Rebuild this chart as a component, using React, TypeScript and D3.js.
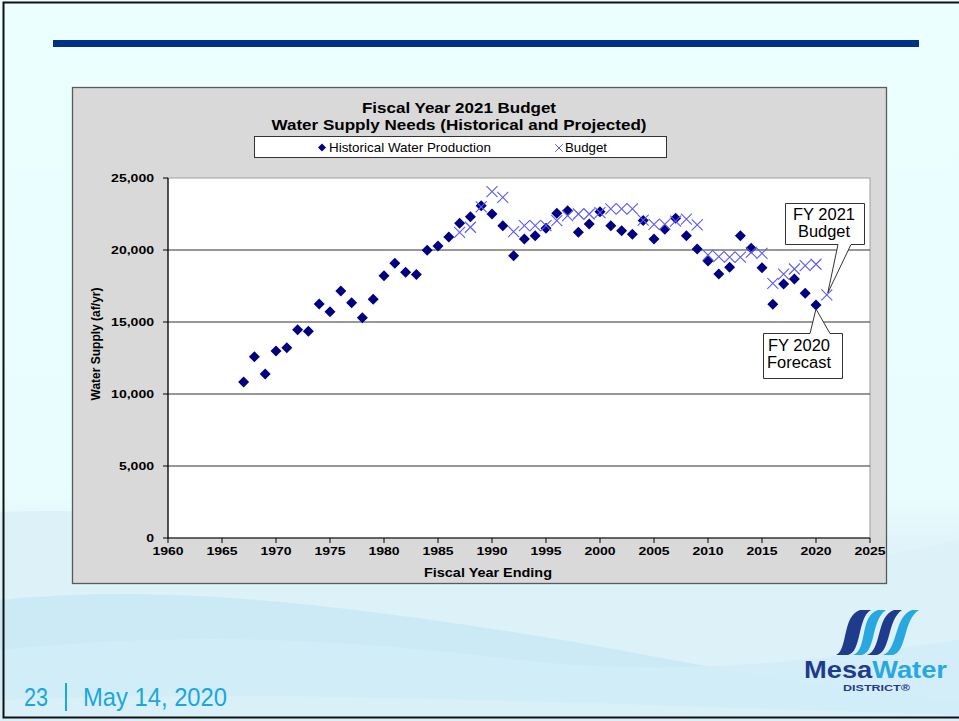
import React from "react";
import * as d3 from "d3";

const prodYears = [1967,1968,1969,1970,1971,1972,1973,1974,1975,1976,1977,1978,1979,1980,1981,1982,1983,1984,1985,1986,1987,1988,1989,1990,1991,1992,1993,1994,1995,1996,1997,1998,1999,2000,2001,2002,2003,2004,2005,2006,2007,2008,2009,2010,2011,2012,2013,2014,2015,2016,2017,2018,2019,2020];
const prodValues = [10830,12590,11390,12990,13220,14470,14350,16250,15720,17150,16340,15300,16580,18220,19080,18450,18290,19980,20280,20900,21850,22310,23080,22500,21690,19600,20760,20990,21510,22550,22730,21230,21810,22660,21690,21340,21090,22040,20760,21440,22200,20990,20070,19240,18330,18800,20990,20120,18770,16230,17640,17990,16990,16180];

const budgetYears = [1987,1988,1989,1990,1991,1992,1993,1994,1995,1996,1997,1998,1999,2000,2001,2002,2003,2004,2005,2006,2007,2008,2009,2010,2011,2012,2013,2014,2015,2016,2017,2018,2019,2020,2021];
const budgetValues = [21230,21580,22990,24050,23660,21270,21690,21690,21700,22040,22380,22500,22500,22600,22850,22850,22850,22080,21780,21780,22000,22150,21740,19650,19540,19500,19500,19840,19770,17690,18330,18680,18910,19010,16880];

const xTicks = [1960,1965,1970,1975,1980,1985,1990,1995,2000,2005,2010,2015,2020,2025];
const yTicks = [0,5000,10000,15000,20000,25000];

const titleLines = ["Fiscal Year 2021 Budget", "Water Supply Needs (Historical and Projected)"];
const legendLabels = ["Historical Water Production", "Budget"];

const FONT = "'Liberation Sans', Arial, sans-serif";

// approximate bold Arial advance widths for digits/comma (em)
const numWidth = (s: string, fs: number) =>
  s.split("").reduce((a, c) => a + (c === "," ? 0.278 : 0.556), 0) * fs;

export default function App() {
  const x = d3.scaleLinear().domain([1960, 2025]).range([168, 870]);
  const y = d3.scaleLinear().domain([0, 25000]).range([538, 178]);
  const fmt = d3.format(",");
  const diamond = (s: number) => `M0,${-s}L${s},0L0,${s}L${-s},0Z`;
  const cross = (s: number) => `M${-s},${-s}L${s},${s}M${-s},${s}L${s},${-s}`;

  const fx2020 = x(2020), fy2020 = y(prodValues[prodValues.length - 1]);
  const bx2021 = x(2021), by2021 = y(budgetValues[budgetValues.length - 1]);
  const tickFs = 11.5;
  const stretch = 1.22;

  return (
    <svg width={959} height={721} style={{ position: "absolute", left: 0, top: 0 }} fontFamily={FONT}>
      <defs>
        <linearGradient id="bg" x1="0" y1="0" x2="0" y2="1">
          <stop offset="0" stopColor="#ecffff" />
          <stop offset="0.68" stopColor="#eafdfe" />
          <stop offset="0.75" stopColor="#e0f4fa" />
          <stop offset="1" stopColor="#d4eef8" />
        </linearGradient>
      </defs>
      <rect x={0} y={0} width={959} height={721} fill="url(#bg)" />
      {/* waves */}
      <path d="M0,512 C200,505 400,540 600,560 C750,575 880,560 959,540 L959,721 L0,721 Z" fill="#dcf1f8" />
      <path d="M0,600 C150,585 300,600 500,630 C650,652 800,690 959,700 L959,721 L0,721 Z" fill="#c8e8f4" opacity={0.8} />
      <path d="M0,650 C200,630 350,640 520,660 C700,680 850,655 959,640 L959,721 L0,721 Z" fill="#d2edf7" opacity={0.9} />
      <path d="M0,700 C250,690 500,700 959,715 L959,721 L0,721 Z" fill="#d9f0f8" />
      <rect x={3.5} y={2.5} width={1000} height={715} fill="none" stroke="#111" strokeWidth={2} />

      {/* top bar */}
      <rect x={53} y={40} width={866} height={7} fill="#003087" />

      {/* chart box */}
      <rect x={72.5} y={87.5} width={814} height={496} fill="#d9d9d9" stroke="#5a5a5a" strokeWidth={1.3} />

      {/* titles */}
      <text x={459} y={113} textAnchor="middle" fontSize={15} fontWeight="bold" fill="#000" textLength={194} lengthAdjust="spacingAndGlyphs">{titleLines[0]}</text>
      <text x={459} y={130} textAnchor="middle" fontSize={15} fontWeight="bold" fill="#000" textLength={375} lengthAdjust="spacingAndGlyphs">{titleLines[1]}</text>

      {/* legend */}
      <rect x={254.5} y={136.5} width={412} height={21} fill="#fff" stroke="#333" />
      <path d={diamond(4)} transform="translate(322,147.5)" fill="#000080" />
      <text x={329} y={152} fontSize={13} fill="#000" textLength={162} lengthAdjust="spacingAndGlyphs">{legendLabels[0]}</text>
      <path d={cross(3.8)} transform="translate(559,148)" stroke="#5555ff" strokeWidth={1} fill="none" />
      <text x={565} y={152} fontSize={13} fill="#000" textLength={42} lengthAdjust="spacingAndGlyphs">{legendLabels[1]}</text>

      {/* plot area */}
      <rect x={168} y={178} width={702} height={360} fill="#fff" stroke="#a0a0a0" />
      {yTicks.filter(v => v > 0 && v < 25000).map(v => (
        <line key={v} x1={168} x2={870} y1={y(v)} y2={y(v)} stroke="#333" strokeWidth={1.2} />
      ))}
      {/* y axis */}
      <line x1={168} x2={168} y1={178} y2={538} stroke="#000" strokeWidth={1.2} />
      {yTicks.map(v => (
        <g key={v}>
          <line x1={163} x2={168} y1={y(v)} y2={y(v)} stroke="#000" />
          <text x={154} y={y(v) + 4} textAnchor="end" fontSize={tickFs} fontWeight="bold" fill="#000"
            textLength={numWidth(fmt(v), tickFs) * stretch} lengthAdjust="spacingAndGlyphs">{fmt(v)}</text>
        </g>
      ))}
      {/* x axis */}
      <line x1={168} x2={870} y1={538} y2={538} stroke="#000" strokeWidth={1.2} />
      {xTicks.map(v => (
        <g key={v}>
          <line x1={x(v)} x2={x(v)} y1={538} y2={543} stroke="#000" />
          <text x={x(v)} y={555} textAnchor="middle" fontSize={tickFs} fontWeight="bold" fill="#000"
            textLength={numWidth(String(v), tickFs) * stretch} lengthAdjust="spacingAndGlyphs">{v}</text>
        </g>
      ))}
      <text x={488} y={577} textAnchor="middle" fontSize={12} fontWeight="bold" fill="#000" textLength={128} lengthAdjust="spacingAndGlyphs">Fiscal Year Ending</text>
      <text transform="translate(100,344) rotate(-90)" textAnchor="middle" fontSize={13.5} fontWeight="bold" fill="#000" textLength={113} lengthAdjust="spacingAndGlyphs">Water Supply (af/yr)</text>

      {/* historical diamonds */}
      {prodYears.map((yr, i) => (
        <path key={"p" + yr} d={diamond(5.5)} transform={`translate(${x(yr)},${y(prodValues[i])})`} fill="#000080" />
      ))}
      {/* budget crosses */}
      {budgetYears.map((yr, i) => (
        <path key={"b" + yr} d={cross(5.5)} transform={`translate(${x(yr)},${y(budgetValues[i])})`} stroke="#5a5aff" strokeWidth={1.1} fill="none" />
      ))}

      {/* callout FY 2021 Budget */}
      <path d={`M785.5,203.5 H864.5 V244.5 H851 L${bx2021 + 1},${by2021 - 2} L838,244.5 H785.5 Z`} fill="#fff" stroke="#333" />
      <text x={824} y={220} textAnchor="middle" fontSize={16} fill="#000" textLength={62} lengthAdjust="spacingAndGlyphs">FY 2021</text>
      <text x={824} y={237} textAnchor="middle" fontSize={16} fill="#000" textLength={52} lengthAdjust="spacingAndGlyphs">Budget</text>

      {/* callout FY 2020 Forecast */}
      <path d={`M763.5,333.5 H810 L${fx2020},${fy2020 + 4} L830,333.5 H842.5 V378.5 H763.5 Z`} fill="#fff" stroke="#333" />
      <text x={799} y={351} textAnchor="middle" fontSize={16} fill="#000" textLength={62} lengthAdjust="spacingAndGlyphs">FY 2020</text>
      <text x={799} y={368} textAnchor="middle" fontSize={16} fill="#000" textLength={64} lengthAdjust="spacingAndGlyphs">Forecast</text>

      {/* footer */}
      <text x={24} y={706} fontSize={26} fill="#1aa7dd" textLength={24} lengthAdjust="spacingAndGlyphs">23</text>
      <line x1={66} x2={66} y1={683} y2={711} stroke="#1aa7dd" strokeWidth={2} />
      <text x={83} y={706} fontSize={26} fill="#1aa7dd" textLength={144} lengthAdjust="spacingAndGlyphs">May 14, 2020</text>

      {/* logo */}
      <g>
        <path d="M836,655 C848,650 842,616 860,610 L871,610 C857,618 862,652 848,655 Z" fill="#1f3b8c" />
        <path d="M853,655 C868,650 859,616 878,610 L886,610 C871,620 876,652 862,655 Z" fill="#29a8df" />
        <path d="M867,655 C882,650 876,616 894,610 L902,610 C887,620 891,652 877,655 Z" fill="#1f3b8c" />
        <path d="M883,655 C898,650 894,616 912,610 L919,610 C903,620 907,652 893,655 Z" fill="#29a8df" />
        <text x={804} y={678} fontSize={24} fontWeight="bold" textLength={143} lengthAdjust="spacingAndGlyphs">
          <tspan fill="#1f3b8c">Mesa</tspan><tspan fill="#29a8df">Water</tspan>
        </text>
        <text x={843} y={691} fontSize={9.5} fontWeight="bold" fill="#1f3b8c" textLength={67} lengthAdjust="spacingAndGlyphs">DISTRICT®</text>
      </g>
    </svg>
  );
}
